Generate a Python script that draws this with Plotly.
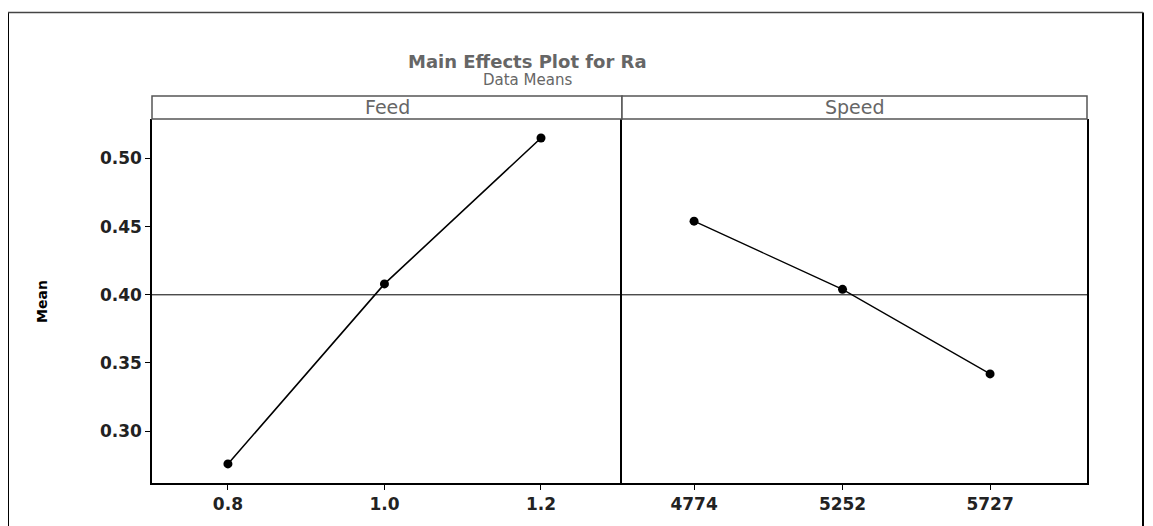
import plotly.graph_objects as go

feed_levels = [0.8, 1.0, 1.2]
feed_means = [0.276, 0.408, 0.515]
speed_levels = [4774, 5252, 5727]
speed_means = [0.454, 0.404, 0.342]
grand_mean = 0.400
y_ticks = [0.30, 0.35, 0.40, 0.45, 0.50]
panel_names = ["Feed", "Speed"]

OFF = 8  # page body offset
W, H = 1153 - OFF, 526 - OFF
L, R, T, B = 152 - OFF, 66, 96 - OFF, 41
pw = W - L - R
ph = H - T - B
strip_h = 23
ytop = 1 - strip_h / ph
xsplit = (622 - 152) / pw


def px_x(x):
    return (x - OFF - L) / pw


def px_y(y):
    return (H - B - (y - OFF)) / ph


font = "DejaVu Sans"
tick_font = dict(family=font, size=17, color="#222")
fig = go.Figure()
fig.add_trace(go.Scatter(x=feed_levels, y=feed_means, mode="lines+markers",
                         line=dict(color="black", width=1.6),
                         marker=dict(color="black", size=9), xaxis="x", yaxis="y", showlegend=False))
fig.add_trace(go.Scatter(x=speed_levels, y=speed_means, mode="lines+markers",
                         line=dict(color="black", width=1.3),
                         marker=dict(color="black", size=9), xaxis="x2", yaxis="y2", showlegend=False))

ax_common = dict(showgrid=False, zeroline=False, showline=True, linecolor="black", linewidth=1.5,
                 ticks="outside", ticklen=5, tickcolor="black", tickfont=tick_font)
fig.update_layout(
    width=W, height=H, margin=dict(l=L, r=R, t=T, b=B),
    paper_bgcolor="white", plot_bgcolor="white",
    xaxis=dict(domain=[0, xsplit], range=[0.703, 1.3035], tickvals=feed_levels,
               ticktext=["<b>0.8</b>", "<b>1.0</b>", "<b>1.2</b>"], anchor="y",
               mirror=False, **ax_common),
    xaxis2=dict(domain=[xsplit, 1], range=[4542, 6039], tickvals=speed_levels,
                ticktext=[f"<b>{v}</b>" for v in speed_levels], anchor="y2",
                mirror=False, **ax_common),
    yaxis=dict(domain=[0, ytop], range=[0.262, 0.529], tickvals=y_ticks,
               ticktext=[f"<b>{v:.2f}</b>" for v in y_ticks], anchor="x",
               mirror=False, **ax_common),
    yaxis2=dict(domain=[0, ytop], range=[0.262, 0.529], matches="y", anchor="x2",
                showticklabels=False, showgrid=False, zeroline=False, showline=True,
                linecolor="black", linewidth=1.5, mirror=True, ticks=""),
)

# y-axis title
fig.add_annotation(x=px_x(42), y=px_y(303), xref="paper", yref="paper", text="<b>Mean</b>",
                   textangle=-90, showarrow=False, xanchor="center", yanchor="middle",
                   font=dict(family=font, size=14, color="black"))

# grand mean reference lines
for xr, yr in [("x", "y"), ("x2", "y2")]:
    fig.add_shape(type="line", xref=f"{xr} domain", yref=yr, x0=0, x1=1,
                  y0=grand_mean, y1=grand_mean, line=dict(color="black", width=1))

# strip headers
for i, name in enumerate(panel_names):
    x0 = 0 if i == 0 else xsplit
    x1 = xsplit if i == 0 else 1
    fig.add_shape(type="rect", xref="paper", yref="paper", x0=x0, x1=x1, y0=ytop, y1=1,
                  line=dict(color="#555", width=1.5), fillcolor="white")
    fig.add_annotation(x=(x0 + x1) / 2, y=(ytop + 1) / 2, xref="paper", yref="paper",
                       text=name, showarrow=False, xanchor="center", yanchor="middle",
                       font=dict(family=font, size=19, color="#666"))

# titles
fig.add_annotation(x=px_x(527), y=px_y(61), xref="paper", yref="paper",
                   text="<b>Main Effects Plot for Ra</b>", showarrow=False,
                   xanchor="center", yanchor="middle",
                   font=dict(family=font, size=18, color="#666"))
fig.add_annotation(x=px_x(527), y=px_y(80), xref="paper", yref="paper",
                   text="Data Means", showarrow=False, xanchor="center", yanchor="middle",
                   font=dict(family=font, size=15, color="#666"))

# outer frame
fx0 = px_x(8)
fx1 = px_x(1143)
fy_top = px_y(12)
fy_bot = px_y(560)
fig.add_shape(type="line", xref="paper", yref="paper", x0=fx0, x1=fx0, y0=fy_bot, y1=fy_top,
              line=dict(color="black", width=2))
fig.add_shape(type="line", xref="paper", yref="paper", x0=fx1, x1=fx1, y0=fy_bot, y1=fy_top,
              line=dict(color="black", width=2))
fig.add_shape(type="line", xref="paper", yref="paper", x0=fx0, x1=fx1, y0=fy_top, y1=fy_top,
              line=dict(color="#444", width=1.5))

fig.write_html("out.html")
